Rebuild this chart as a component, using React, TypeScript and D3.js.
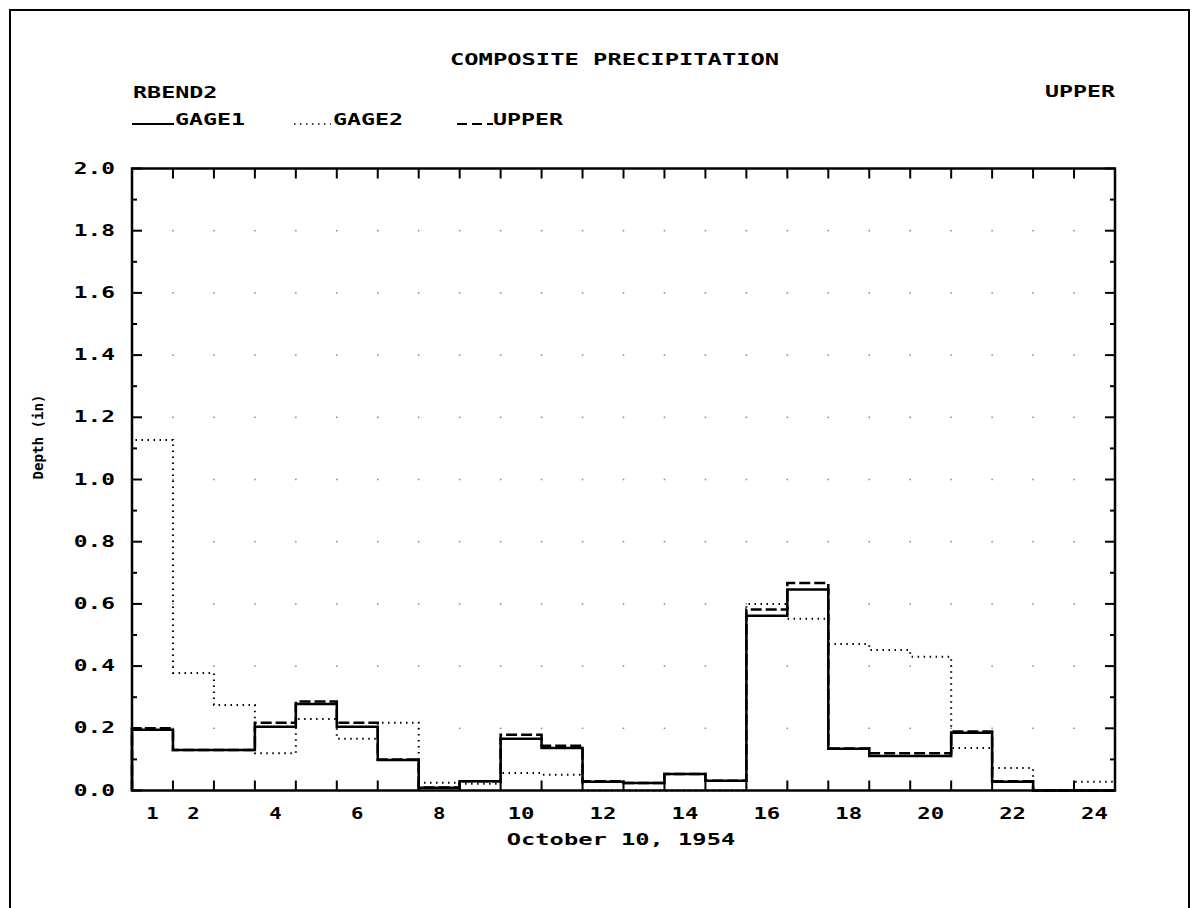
import React from "react";
import * as d3 from "d3";

const HOURS = [1, 2, 3, 4, 5, 6, 7, 8, 9, 10, 11, 12, 13, 14, 15, 16, 17, 18, 19, 20, 21, 22, 23, 24];
const GAGE1 = [0.195, 0.13, 0.13, 0.205, 0.278, 0.205, 0.098, 0.009, 0.03, 0.166, 0.137, 0.028, 0.024, 0.053, 0.031, 0.562, 0.646, 0.134, 0.111, 0.111, 0.186, 0.028, 0, 0];
const GAGE2 = [1.127, 0.378, 0.275, 0.12, 0.23, 0.166, 0.218, 0.025, 0.022, 0.056, 0.051, 0, 0, 0, 0, 0.6, 0.552, 0.471, 0.452, 0.43, 0.137, 0.072, 0, 0.028];
const UPPER = [0.2, 0.13, 0.13, 0.218, 0.286, 0.218, 0.1, 0.01, 0.03, 0.179, 0.144, 0.03, 0.024, 0.053, 0.031, 0.582, 0.667, 0.135, 0.12, 0.12, 0.19, 0.03, 0, 0];
const X_TICK_LABELS = [1, 2, 4, 6, 8, 10, 12, 14, 16, 18, 20, 22, 24];
const Y_MAJOR = [0, 0.2, 0.4, 0.6, 0.8, 1.0, 1.2, 1.4, 1.6, 1.8, 2.0];
const Y_MINOR = [0.1, 0.3, 0.5, 0.7, 0.9, 1.1, 1.3, 1.5, 1.7, 1.9];

const TITLE = "COMPOSITE PRECIPITATION";
const SUB_LEFT = "RBEND2";
const SUB_RIGHT = "UPPER";
const X_TITLE = "October 10, 1954";
const Y_TITLE = "Depth (in)";

const FONT = "'DejaVu Sans Mono', 'Liberation Mono', monospace";
const ADV = 14.4;

function Txt({ x, y, s, size = 15, adv = ADV, anchor = "start", transform }: any) {
  const w = s.length * adv - 2;
  let x0 = x;
  if (anchor === "middle") x0 = x - w / 2;
  if (anchor === "end") x0 = x - w;
  return (
    <text
      x={x0}
      y={y}
      fontFamily={FONT}
      fontWeight="bold"
      fontSize={size}
      textLength={w}
      lengthAdjust="spacingAndGlyphs"
      fill="#000"
      transform={transform}
    >
      {s}
    </text>
  );
}

export default function App() {
  const W = 1193, H = 908;
  const x = d3.scaleLinear().domain([0, 24]).range([132, 1115]);
  const y = d3.scaleLinear().domain([0, 2]).range([790.5, 168.5]);
  const line = d3.line<[number, number]>().x(d => x(d[0])).y(d => y(d[1]));
  const steps = (vals: number[]) => {
    const pts: [number, number][] = [[0, 0]];
    vals.forEach((v, i) => {
      pts.push([i, v]);
      pts.push([i + 1, v]);
    });
    pts.push([24, 0]);
    return line(pts) as string;
  };
  const bounds = d3.range(1, 24);
  const x0 = x(0), x1 = x(24), yT = y(2), yB = y(0);

  return (
    <svg width={W} height={H} style={{ position: "absolute", left: 0, top: 0, background: "#fff" }}>
      <rect x={0} y={0} width={W} height={H} fill="#fff" />
      {/* page frame */}
      <path d={`M10,${H} V10 H1189 V${H}`} fill="none" stroke="#000" strokeWidth={2} />

      {/* titles */}
      <Txt x={450} y={65} s={TITLE} />
      <Txt x={133} y={98} s={SUB_LEFT} />
      <Txt x={1115} y={97} s={SUB_RIGHT} anchor="end" />

      {/* legend */}
      <line x1={132} x2={174} y1={124} y2={124} stroke="#000" strokeWidth={2} />
      <Txt x={175} y={125} s="GAGE1" />
      <line x1={294} x2={331} y1={124} y2={124} stroke="#000" strokeWidth={1.5} strokeDasharray="1.5 4.5" />
      <Txt x={333} y={125} s="GAGE2" />
      <line x1={457} x2={493} y1={124} y2={124} stroke="#000" strokeWidth={2} strokeDasharray="10 5" />
      <Txt x={493} y={125} s="UPPER" />

      {/* grid dots */}
      {bounds.map(b =>
        Y_MAJOR.filter(v => v > 0 && v < 2).map(v => (
          <rect key={`g${b}-${v}`} x={x(b) - 0.75} y={y(v) - 0.75} width={1.5} height={1.5} fill="#888" />
        ))
      )}

      {/* data */}
      <path d={steps(GAGE2)} fill="none" stroke="#000" strokeWidth={2} strokeDasharray="1.5 4.5" />
      <path d={steps(UPPER)} fill="none" stroke="#000" strokeWidth={2.5} strokeDasharray="11 4" />
      <path d={steps(GAGE1)} fill="none" stroke="#000" strokeWidth={2.5} />

      {/* axes frame */}
      <rect x={x0} y={yT} width={x1 - x0} height={yB - yT} fill="none" stroke="#000" strokeWidth={2.5} />
      {Y_MAJOR.map(v => (
        <g key={`ym${v}`}>
          <line x1={x0} x2={x0 + 10} y1={y(v)} y2={y(v)} stroke="#000" strokeWidth={2} />
          <line x1={x1} x2={x1 - 10} y1={y(v)} y2={y(v)} stroke="#000" strokeWidth={2} />
          <Txt x={115} y={y(v) + 5} s={v.toFixed(1)} anchor="end" />
        </g>
      ))}
      {Y_MINOR.map(v => (
        <g key={`yn${v}`}>
          <line x1={x0} x2={x0 + 5} y1={y(v)} y2={y(v)} stroke="#000" strokeWidth={2} />
          <line x1={x1} x2={x1 - 5} y1={y(v)} y2={y(v)} stroke="#000" strokeWidth={2} />
        </g>
      ))}
      {bounds.map(b => (
        <g key={`xt${b}`}>
          <line x1={x(b)} x2={x(b)} y1={yB} y2={yB - 10} stroke="#000" strokeWidth={2} />
          <line x1={x(b)} x2={x(b)} y1={yT} y2={yT + 10} stroke="#000" strokeWidth={2} />
        </g>
      ))}
      {X_TICK_LABELS.map(h => (
        <Txt key={`xl${h}`} x={x(HOURS.indexOf(h) + 0.5)} y={819} s={String(h)} anchor="middle" />
      ))}

      {/* axis titles */}
      <Txt x={621} y={845} s={X_TITLE} anchor="middle" />
      <Txt x={0} y={0} s={Y_TITLE} size={13.5} adv={8.7} anchor="middle" transform="translate(43,437) rotate(-90)" />
    </svg>
  );
}
